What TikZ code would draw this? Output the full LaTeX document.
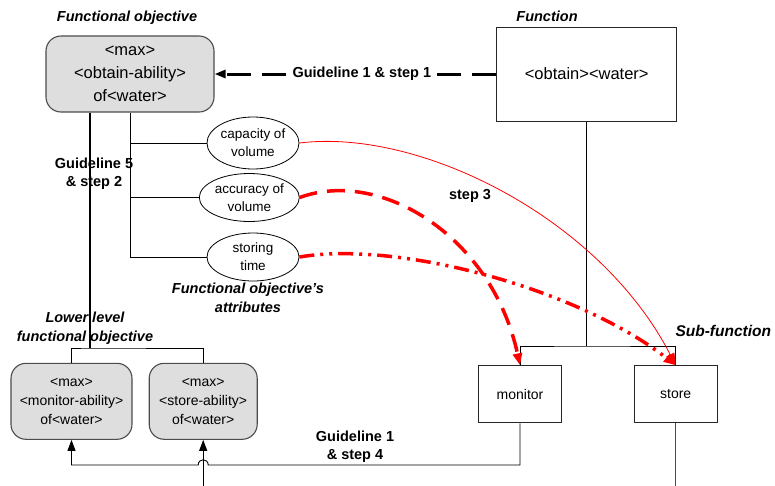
\documentclass[tikz,border=0pt]{standalone}
\usepackage{fontspec}
\setmainfont{Liberation Sans}
\usetikzlibrary{shapes.geometric,arrows.meta,calc}

\begin{document}
\begin{tikzpicture}[x=1pt,y=-1pt,
  gbox/.style={draw=black!70, line width=1.1pt, fill=black!13, rounded corners=15pt,
               align=center, inner sep=0pt},
  fbox/.style={draw=black!85, line width=1pt, align=center, inner sep=0pt},
  attr/.style={ellipse, draw, line width=0.8pt, align=center, inner sep=0pt,
               font=\fontsize{13.5}{18}\selectfont},
  lbl/.style={font=\fontsize{14.5}{18}\selectfont\bfseries, align=center},
  ttl/.style={font=\fontsize{14.5}{19}\selectfont\bfseries\itshape, align=center},
  link/.style={line width=0.9pt},
  tip/.style={-{Triangle[length=11pt,width=8pt]}},
  redtip/.style={-{Triangle[length=12pt,width=9pt]}}
]
\useasboundingbox (0,0) rectangle (775,485);

% ---------- nodes ----------
\node[gbox, minimum width=168pt, minimum height=76pt,
      font=\fontsize{16.5}{23}\selectfont] (fo) at (130,74)
  {<max>\\<obtain-ability>\\of<water>};
\node[fbox, minimum width=180pt, minimum height=94pt,
      font=\fontsize{16.5}{20}\selectfont] (fn) at (586.7,74) {<obtain><water>};

\node[attr, minimum width=92pt, minimum height=52pt] (cap) at (253,143) {capacity of\\volume};
\node[attr, minimum width=100pt, minimum height=48pt] (acc) at (249.3,197.5) {accuracy of\\volume};
\node[attr, minimum width=92pt, minimum height=48pt] (st) at (253,257) {storing\\time};

\node[gbox, minimum width=121pt, minimum height=76pt,
      font=\fontsize{14}{19}\selectfont] (lb1) at (71.5,401.3)
  {<max>\\<monitor-ability>\\of<water>};
\node[gbox, minimum width=108pt, minimum height=76pt,
      font=\fontsize{14}{19}\selectfont] (lb2) at (203.2,401.3)
  {<max>\\<store-ability>\\of<water>};

\node[fbox, minimum width=83pt, minimum height=57pt,
      font=\fontsize{14}{18}\selectfont] (mon) at (520,394.3) {monitor};
\node[fbox, minimum width=83pt, minimum height=57pt,
      font=\fontsize{14}{18}\selectfont] (sto) at (675.7,394.3) {store};

% ---------- helper points ----------
\coordinate (hub) at (90,348);
\coordinate (spine) at (130,257);
\coordinate (fhub) at (586.7,346);
\coordinate (bus) at (0,465);
\coordinate (below) at (0,495);

% ---------- tree from the functional objective ----------
\draw[line width=1.5pt] (hub |- fo.south) -- (hub);
\draw[link] (lb1.north) |- (hub) -| (lb2.north);
\draw[link] (spine |- fo.south) -- (spine) -- (st.west);
\draw[link] (spine |- cap.west) -- (cap.west);
\draw[link] (spine |- acc.west) -- (acc.west);

% ---------- tree from the function ----------
\draw[link] (fn.south) -- (fhub);
\draw[link] (mon.north) |- (fhub) -| (sto.north);
\draw[link, black!70] (sto.south) -- (sto.south |- below);

% ---------- guideline 1 & step 1 ----------
\draw[line width=3pt, dash pattern=on 24pt off 11pt, tip]
  (fn.west) -- (fo.east)
  node[pos=0.477, lbl, fill=white, inner sep=1pt] {Guideline 1 \& step 1};

% ---------- guideline 1 & step 4 ----------
\coordinate (hop) at (lb2.south |- bus);
\draw[link, tip] (mon.south) -- (mon.south |- bus) -- ($(hop)+(5,0)$)
  .. controls ($(hop)+(5,-7)$) and ($(hop)+(-5,-7)$) .. ($(hop)+(-5,0)$)
  -- (lb1.south |- bus) -- (lb1.south);
\draw[link, tip] (lb2.south |- below) -- (lb2.south);

% ---------- attribute mappings (step 3) ----------
\draw[red, line width=0.8pt, redtip]
  (cap.east) .. controls (420,128) and (600,218) .. (sto.north);
\draw[red, line width=3.5pt, dash pattern=on 18pt off 10pt, redtip]
  (acc.east) .. controls (380,168) and (492,236) .. (mon.north);
\draw[red, line width=3.5pt, dash pattern=on 15pt off 6pt on 3pt off 6pt on 3pt off 6pt, redtip]
  (st.east) .. controls (400,240) and (580,290) .. (sto.north);

% ---------- labels ----------
\node[ttl] (tfo) at (127,18) {Functional objective};
\node[ttl] (tfn) at (547,16) {Function};
\node[ttl] (tattr) at (248,297.5) {Functional objective’s\\attributes};
\node[ttl] (tlow) at (85,328.5) {Lower level\\functional objective};
\node[ttl, anchor=west, font=\fontsize{15.5}{19}\selectfont\bfseries\itshape] (tsub) at (672,331) {Sub-function};
\node[lbl] (g5) at (94,174) {Guideline 5\\\& step 2};
\node[lbl] (s3) at (470,196) {step 3};
\node[lbl] (g4) at (355,447) {Guideline 1\\\& step 4};
\end{tikzpicture}
\end{document}
